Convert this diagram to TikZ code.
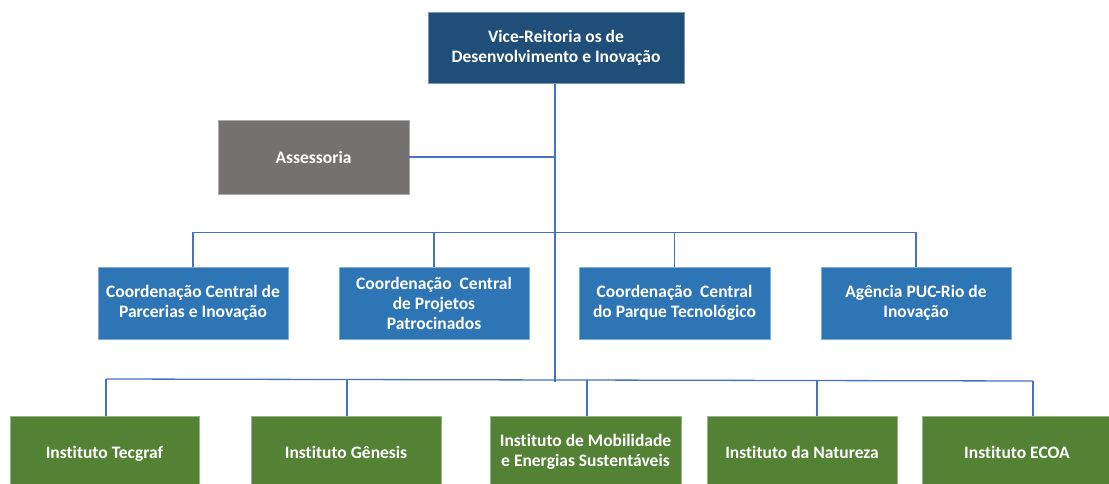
\documentclass[tikz,border=0pt]{standalone}
\usepackage{fontspec}
\setmainfont{Carlito}[Ligatures=NoCommon]
\usetikzlibrary{calc}
\definecolor{darkb}{HTML}{1F4E79}
\definecolor{midb}{HTML}{2E75B6}
\definecolor{grn}{HTML}{548235}
\definecolor{gry}{HTML}{767171}
\definecolor{conn}{HTML}{4472C4}
\tikzset{
  box/.style={rectangle, text=white, font=\bfseries\fontsize{17.5}{20}\selectfont, align=center, inner sep=2pt, minimum height=72pt, minimum width=190pt},
  topbox/.style={box, fill=darkb, draw=darkb!60!white, line width=0.6pt},
  greybox/.style={box, fill=gry, draw=gry!60!white, line width=0.6pt},
  bluebox/.style={box, fill=midb, draw=midb!60!white, line width=0.6pt},
  greenbox/.style={box, fill=grn, draw=grn!60!white, line width=0.6pt},
  connector/.style={draw=conn, line width=1.3pt}
}
\begin{document}
\begin{tikzpicture}[x=1pt,y=-1pt]
\useasboundingbox (0,0) rectangle (1109,484);
\begin{scope}
\clip (0,0) rectangle (1109,484);
\node[topbox, minimum width=256pt, minimum height=71pt] (top) at (556,48) {Vice-Reitoria os de\\Desenvolvimento e Inovação};
\node[greybox, minimum width=191pt, minimum height=74pt] (ass) at (313.5,157) {Assessoria};
\node[bluebox] (c1) at (193,303) {Coordenação Central de\\Parcerias e Inovação};
\node[bluebox] (c2) at (434,303) {Coordenação~ Central\\de Projetos\\Patrocinados};
\node[bluebox, minimum width=191pt] (c3) at (674.5,303) {Coordenação~ Central\\do Parque Tecnológico};
\node[bluebox] (c4) at (916,303) {Agência PUC-Rio de\\Inovação};
\node[greenbox, minimum width=189pt, text depth=0pt] (g1) at (104.5,452) {Instituto Tecgraf};
\node[greenbox] (g2) at (346,452) {Instituto Gênesis};
\node[greenbox, minimum width=191pt] (g3) at (585.5,452) {Instituto de Mobilidade\\e Energias Sustentáveis};
\node[greenbox] (g4) at (802,452) {Instituto da Natureza};
\node[greenbox] (g5) at (1017,452) {Instituto ECOA};
\end{scope}
\coordinate (hub) at (555,382);
\coordinate (bus2l) at (106,379);
\coordinate (bus2r) at (1033,381);
\draw[connector] (top.south -| hub) -- (hub);
\draw[connector] (ass.east) -- (ass.east -| hub);
\draw[connector] (c1.north) -- ++(0,-34) -| (c4.north);
\draw[connector] (c2.north) -- ++(0,-34);
\draw[connector] (c3.north) -- ++(0,-34);
\draw[connector] (bus2l) -- (bus2r);
\draw[connector] (g1.north -| bus2l) -- (bus2l);
\draw[connector] ($(g2.north)+(1,0)$) -- ++(0,-36);
\draw[connector] ($(g3.north)+(1.5,0)$) -- ++(0,-36);
\draw[connector] ($(g4.north)+(15,0)$) -- ++(0,-36);
\draw[connector] (g5.north -| bus2r) -- (bus2r);
\end{tikzpicture}
\end{document}
